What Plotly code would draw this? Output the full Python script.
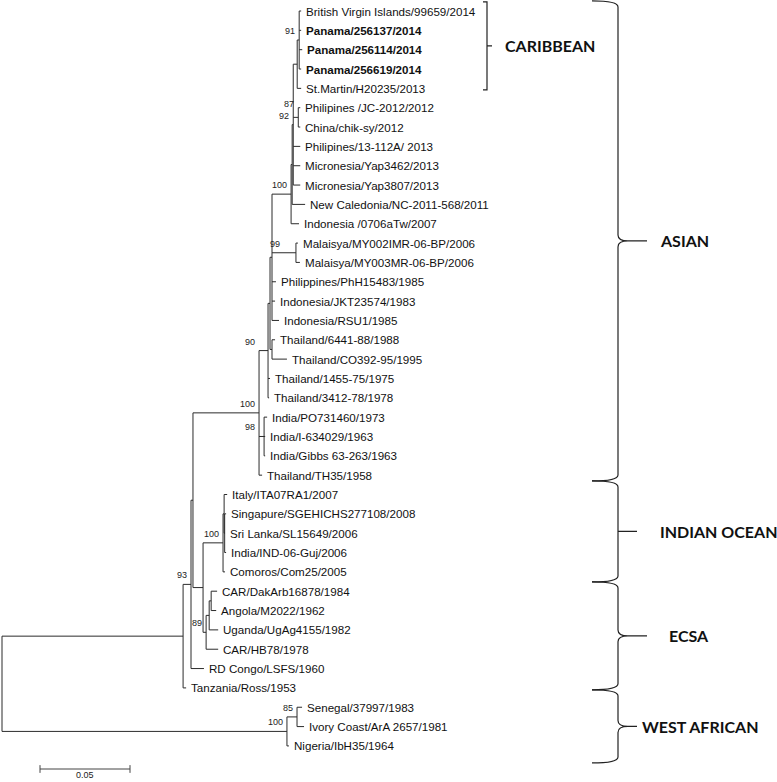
import plotly.graph_objects as go

# ── Data ─────────────────────────────────────────────────────────────────────
taxa = [
    "British Virgin Islands/99659/2014", "Panama/256137/2014", "Panama/256114/2014",
    "Panama/256619/2014", "St.Martin/H20235/2013", "Philipines /JC-2012/2012",
    "China/chik-sy/2012", "Philipines/13-112A/ 2013", "Micronesia/Yap3462/2013",
    "Micronesia/Yap3807/2013", "New Caledonia/NC-2011-568/2011", "Indonesia /0706aTw/2007",
    "Malaisya/MY002IMR-06-BP/2006", "Malaisya/MY003MR-06-BP/2006", "Philippines/PhH15483/1985",
    "Indonesia/JKT23574/1983", "Indonesia/RSU1/1985", "Thailand/6441-88/1988",
    "Thailand/CO392-95/1995", "Thailand/1455-75/1975", "Thailand/3412-78/1978",
    "India/PO731460/1973", "India/I-634029/1963", "India/Gibbs 63-263/1963",
    "Thailand/TH35/1958", "Italy/ITA07RA1/2007", "Singapure/SGEHICHS277108/2008",
    "Sri Lanka/SL15649/2006", "India/IND-06-Guj/2006", "Comoros/Com25/2005",
    "CAR/DakArb16878/1984", "Angola/M2022/1962", "Uganda/UgAg4155/1982",
    "CAR/HB78/1978", "RD Congo/LSFS/1960", "Tanzania/Ross/1953",
    "Senegal/37997/1983", "Ivory Coast/ArA 2657/1981", "Nigeria/IbH35/1964",
]
bold_taxa = [1, 2, 3]

# Newick pieces: leaves are indices into taxa, internal labels are bootstrap values
caribbean = "((0:0.0011,1:0.0011,2:0.0017,3:0.0011)91:0.0011,4:0.0022)"
phil_china = "(5:0.0011,6:0.0011)87"
yap_group = f"({caribbean}:0.0022,{phil_china}:0.0028,7:0.0039,8:0.0039,9:0.0039)92"
pacific = f"(({yap_group}:0.0006,10:0.0072):0.0006,11:0.0044)100"
malaysia = "(12:0.0011,13:0.0022)99"
asia_sea = f"(({pacific}:0.0106,{malaysia}:0.0133,14:0.0022,15:0.0017,16:0.0039):0.0011,(17:0.0017,18:0.0083):0.0011)"
asian = f"(({asia_sea}:0.0011,19:0.0011,20:0.0006)90:0.0050,(21:0.0017,22:0.0006,23:0.0006)98:0.0028,24:0.0017)100"
iol = "((25:0.0017,(26:0.0008,27:0.0002,28:0.0008):0.0003):0.0006,29:0.0011)100"
ecsa = "(((30:0.0033,31:0.0028):0.0011,32:0.0050):0.0017,33:0.0067)89"
ecsa_all = f"((({asian}:0.0367,({iol}:0.0111,{ecsa}:0.0017):0.0056):0.0011,34:0.0072)93:0.0044,35:0.0017)"
west_african = "((36:0.0028,37:0.0039)85:0.0056,38:0.0011)100"
tree_newick = f"({ecsa_all}:0.1006,{west_african}:0.1583);"

scale_len = 0.05

clade_names = ["ASIAN", "INDIAN OCEAN", "ECSA", "WEST AFRICAN"]
clade_edges = [-0.52, 24.3, 29.52, 35.1, 38.88]   # in leaf rows
clade_marks = ["curl", "tick", "curl", "small"]
carib_edges = [-0.47, 4.08]

# ── Pixel helpers (page is 777 x 782, plot fills it) ─────────────────────────
W, H = 777, 782
X0, PX_PER_UNIT = 2, 1800
Y0, PX_PER_ROW = 11, 19.34
TIP_FONT = dict(family="Liberation Sans, Arial", size=11.6, color="#111")
BOOT_FONT = dict(family="Liberation Sans, Arial", size=9, color="#222")
CLADE_FONT = dict(family="Lato, Open Sans", size=16, color="#111")
# support labels that sit away from their node in the original figure (dx, dy px)
BOOT_NUDGE = {"87": (0, 4), "99": (-12, 0), "90": (-9, 0), "98": (-5, 0)}


def ux(px):
    return (px - X0) / PX_PER_UNIT


def uy(py):
    return (py - Y0) / PX_PER_ROW


def px_y(row):
    return Y0 + row * PX_PER_ROW


# ── Parse + layout ───────────────────────────────────────────────────────────
def parse(s):
    pos = 0

    def node():
        nonlocal pos
        n = {"children": [], "label": "", "bl": 0.0}
        if s[pos] == "(":
            pos += 1
            while True:
                n["children"].append(node())
                if s[pos] == ",":
                    pos += 1
                    continue
                pos += 1
                break
        start = pos
        while pos < len(s) and s[pos] not in ":,();":
            pos += 1
        n["label"] = s[start:pos]
        if pos < len(s) and s[pos] == ":":
            pos += 1
            start = pos
            while pos < len(s) and s[pos] not in ",();":
                pos += 1
            n["bl"] = float(s[start:pos])
        return n

    return node()


def place(n, x_parent):
    n["x"] = x_parent + n["bl"]
    if n["children"]:
        for c in n["children"]:
            place(c, n["x"])
        n["y"] = (n["children"][0]["y"] + n["children"][-1]["y"]) / 2
    else:
        n["y"] = int(n["label"])


root = parse(tree_newick)
place(root, 0.0)

xs, ys, tips, supports = [], [], [], []


def walk(n):
    if not n["children"]:
        tips.append(n)
        return
    if n["label"]:
        supports.append(n)
    xs.extend([n["x"], n["x"], None])
    ys.extend([n["children"][0]["y"], n["children"][-1]["y"], None])
    for c in n["children"]:
        xs.extend([n["x"], c["x"], None])
        ys.extend([c["y"], c["y"], None])
        walk(c)


walk(root)

fig = go.Figure()
fig.add_trace(go.Scatter(x=xs, y=ys, mode="lines", line=dict(color="#2b2b2b", width=1),
                         hoverinfo="skip", showlegend=False))

annotations = []
for t in tips:
    i = int(t["label"])
    txt = f"<b>{taxa[i]}</b>" if i in bold_taxa else taxa[i]
    annotations.append(dict(x=t["x"], y=t["y"], text=txt, showarrow=False, xanchor="left",
                            yanchor="middle", xshift=3, font=TIP_FONT))
for n in supports:
    dx, dy = BOOT_NUDGE.get(n["label"], (0, 0))
    annotations.append(dict(x=n["x"], y=n["y"], text=n["label"], showarrow=False,
                            xanchor="right", yanchor="bottom", xshift=-2 + dx,
                            yshift=2 + dy, font=BOOT_FONT))

# ── Scale bar ────────────────────────────────────────────────────────────────
sb_x0, sb_row = ux(40), uy(769)
fig.add_trace(go.Scatter(
    x=[sb_x0, sb_x0 + scale_len, None, sb_x0, sb_x0, None, sb_x0 + scale_len, sb_x0 + scale_len],
    y=[sb_row, sb_row, None, sb_row - 0.2, sb_row + 0.2, None, sb_row - 0.2, sb_row + 0.2],
    mode="lines", line=dict(color="#444", width=1), hoverinfo="skip", showlegend=False))
annotations.append(dict(x=sb_x0 + scale_len / 2, y=uy(782), text=str(scale_len), showarrow=False,
                        yanchor="bottom", font=BOOT_FONT))


# ── Clade braces ─────────────────────────────────────────────────────────────
def pt(px, py):
    return f"{ux(px):.6f},{uy(py):.4f}"


shapes = []
bx, bl_x, r = 618, 592, 6
for k, name in enumerate(clade_names):
    yt, yb = px_y(clade_edges[k]), px_y(clade_edges[k + 1])
    ym = (yt + yb) / 2
    mark = clade_marks[k]
    tip = 647 if mark == "curl" else 637
    if mark == "tick":
        path = (f"M{pt(bl_x, yt)} Q{pt(bx, yt)} {pt(bx, yt + r)} L{pt(bx, yb - r)} "
                f"Q{pt(bx, yb)} {pt(bl_x, yb)} M{pt(bx, ym)} L{pt(tip, ym)}")
    else:
        path = (f"M{pt(bl_x, yt)} Q{pt(bx, yt)} {pt(bx, yt + r)} L{pt(bx, ym - r)} "
                f"Q{pt(bx, ym)} {pt(bx + 10, ym)} L{pt(tip, ym)} M{pt(bx + 10, ym)} "
                f"Q{pt(bx, ym)} {pt(bx, ym + r)} L{pt(bx, yb - r)} Q{pt(bx, yb)} {pt(bl_x, yb)}")
    shapes.append(dict(type="path", path=path, xref="x", yref="y",
                       line=dict(color="#222", width=1.2)))
    lx = {"ASIAN": 658, "INDIAN OCEAN": 658, "ECSA": 667, "WEST AFRICAN": 640}[name]
    annotations.append(dict(x=ux(lx), y=uy(ym), text=f"<b>{name}</b>", showarrow=False,
                            xanchor="left", yanchor="middle", font=CLADE_FONT))

# Caribbean square bracket
ct, cb = px_y(carib_edges[0]), px_y(carib_edges[1])
cm = (ct + cb) / 2
shapes.append(dict(type="path", xref="x", yref="y", line=dict(color="#222", width=1.2),
                   path=(f"M{pt(483, ct)} L{pt(487, ct)} L{pt(487, cb)} L{pt(483, cb)} "
                         f"M{pt(487, cm)} L{pt(492, cm)}")))
annotations.append(dict(x=ux(503), y=uy(cm), text="<b>CARIBBEAN</b>", showarrow=False,
                        xanchor="left", yanchor="middle", font=CLADE_FONT))

fig.update_layout(
    width=W, height=H, margin=dict(l=0, r=0, t=0, b=0),
    paper_bgcolor="white", plot_bgcolor="white",
    xaxis=dict(range=[ux(0), ux(W)], visible=False, fixedrange=True),
    yaxis=dict(range=[uy(H), uy(0)], visible=False, fixedrange=True),
    annotations=annotations, shapes=shapes, showlegend=False,
)
# page body has a default 8px margin; drop it so the figure sits at the window corner
fig.write_html("out.html", config={"displayModeBar": False},
               post_script="document.body.style.margin='0px';")
